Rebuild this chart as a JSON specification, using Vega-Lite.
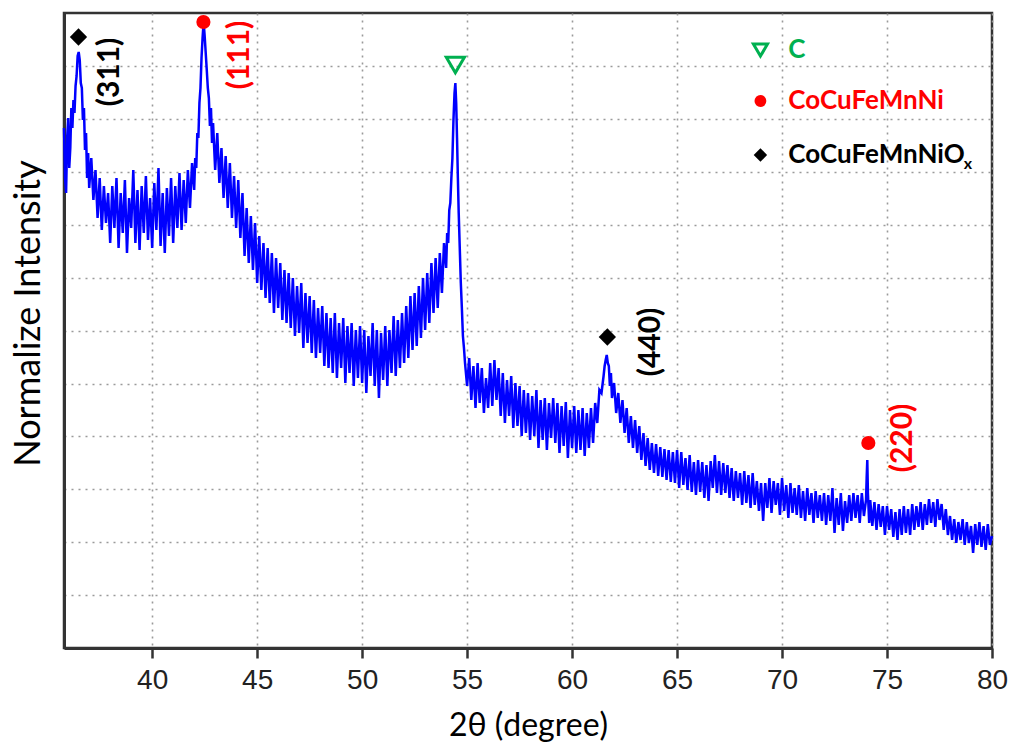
{
"$schema": "https://vega.github.io/schema/vega-lite/v6.json",
"width": 928, "height": 635,
"autosize": "none",
"padding": {"left": 64, "top": 13, "right": 19, "bottom": 96},
"background": "white",
"config": {"view": {"stroke": "#333", "strokeWidth": 2.5}},
"datasets": {
"xrd": [
{"t":35.8,"i":520},{"t":35.85,"i":470},{"t":35.9,"i":455},{"t":35.95,"i":510},{"t":36.0,"i":530},{"t":36.05,"i":480},{"t":36.1,"i":500},{"t":36.15,"i":540},{"t":36.2,"i":520},{"t":36.25,"i":548},{"t":36.3,"i":535},{"t":36.35,"i":562},{"t":36.4,"i":572},{"t":36.45,"i":592},{"t":36.5,"i":596},{"t":36.55,"i":588},{"t":36.6,"i":565},{"t":36.65,"i":560},{"t":36.7,"i":528},{"t":36.75,"i":540},{"t":36.8,"i":498},{"t":36.85,"i":515},{"t":36.9,"i":470},{"t":36.95,"i":495},
{"t":37.0,"i":460},{"t":37.1,"i":490},{"t":37.2,"i":448},{"t":37.3,"i":478},{"t":37.4,"i":430},{"t":37.5,"i":470},{"t":37.6,"i":418},{"t":37.7,"i":462},{"t":37.8,"i":425},{"t":37.9,"i":455},
{"t":38.0,"i":405},{"t":38.1,"i":462},{"t":38.2,"i":420},{"t":38.3,"i":470},{"t":38.4,"i":400},{"t":38.5,"i":455},{"t":38.6,"i":415},{"t":38.7,"i":468},{"t":38.8,"i":395},{"t":38.9,"i":450},
{"t":39.0,"i":420},{"t":39.1,"i":478},{"t":39.2,"i":405},{"t":39.3,"i":458},{"t":39.4,"i":398},{"t":39.5,"i":462},{"t":39.6,"i":415},{"t":39.7,"i":472},{"t":39.8,"i":408},{"t":39.9,"i":450},
{"t":40.0,"i":400},{"t":40.1,"i":465},{"t":40.2,"i":418},{"t":40.3,"i":480},{"t":40.4,"i":402},{"t":40.5,"i":455},{"t":40.6,"i":395},{"t":40.7,"i":460},{"t":40.8,"i":412},{"t":40.9,"i":470},
{"t":41.0,"i":405},{"t":41.1,"i":462},{"t":41.2,"i":420},{"t":41.3,"i":475},{"t":41.4,"i":418},{"t":41.5,"i":468},{"t":41.6,"i":425},{"t":41.7,"i":478},{"t":41.8,"i":440},{"t":41.9,"i":485},
{"t":42.0,"i":458},{"t":42.05,"i":490},{"t":42.1,"i":480},{"t":42.15,"i":515},{"t":42.2,"i":510},{"t":42.25,"i":545},{"t":42.3,"i":560},{"t":42.35,"i":590},{"t":42.4,"i":610},{"t":42.45,"i":626},{"t":42.5,"i":612},{"t":42.55,"i":595},{"t":42.6,"i":578},{"t":42.65,"i":560},{"t":42.7,"i":550},{"t":42.75,"i":522},{"t":42.8,"i":540},{"t":42.85,"i":505},{"t":42.9,"i":525},
{"t":43.0,"i":478},{"t":43.1,"i":515},{"t":43.2,"i":465},{"t":43.3,"i":500},{"t":43.4,"i":450},{"t":43.5,"i":492},{"t":43.6,"i":440},{"t":43.7,"i":485},{"t":43.8,"i":430},{"t":43.9,"i":472},
{"t":44.0,"i":420},{"t":44.1,"i":468},{"t":44.2,"i":410},{"t":44.3,"i":455},{"t":44.4,"i":392},{"t":44.5,"i":440},{"t":44.6,"i":385},{"t":44.7,"i":432},{"t":44.8,"i":378},{"t":44.9,"i":425},
{"t":45.0,"i":365},{"t":45.1,"i":412},{"t":45.2,"i":358},{"t":45.3,"i":405},{"t":45.4,"i":350},{"t":45.5,"i":400},{"t":45.6,"i":345},{"t":45.7,"i":395},{"t":45.8,"i":335},{"t":45.9,"i":390},
{"t":46.0,"i":340},{"t":46.1,"i":385},{"t":46.2,"i":328},{"t":46.3,"i":378},{"t":46.4,"i":325},{"t":46.5,"i":375},{"t":46.6,"i":320},{"t":46.7,"i":370},{"t":46.8,"i":312},{"t":46.9,"i":362},
{"t":47.0,"i":315},{"t":47.1,"i":365},{"t":47.2,"i":300},{"t":47.3,"i":355},{"t":47.4,"i":305},{"t":47.5,"i":352},{"t":47.6,"i":295},{"t":47.7,"i":348},{"t":47.8,"i":290},{"t":47.9,"i":340},
{"t":48.0,"i":295},{"t":48.1,"i":342},{"t":48.2,"i":282},{"t":48.3,"i":335},{"t":48.4,"i":280},{"t":48.5,"i":330},{"t":48.6,"i":275},{"t":48.7,"i":335},{"t":48.8,"i":270},{"t":48.9,"i":325},
{"t":49.0,"i":280},{"t":49.1,"i":330},{"t":49.2,"i":265},{"t":49.3,"i":322},{"t":49.4,"i":275},{"t":49.5,"i":325},{"t":49.6,"i":262},{"t":49.7,"i":318},{"t":49.8,"i":270},{"t":49.9,"i":322},
{"t":50.0,"i":265},{"t":50.1,"i":318},{"t":50.2,"i":255},{"t":50.3,"i":312},{"t":50.4,"i":272},{"t":50.5,"i":325},{"t":50.6,"i":262},{"t":50.7,"i":318},{"t":50.8,"i":250},{"t":50.9,"i":315},
{"t":51.0,"i":268},{"t":51.1,"i":322},{"t":51.2,"i":262},{"t":51.3,"i":318},{"t":51.4,"i":275},{"t":51.5,"i":332},{"t":51.6,"i":272},{"t":51.7,"i":328},{"t":51.8,"i":280},{"t":51.9,"i":335},
{"t":52.0,"i":285},{"t":52.1,"i":342},{"t":52.2,"i":290},{"t":52.3,"i":352},{"t":52.4,"i":298},{"t":52.5,"i":355},{"t":52.6,"i":302},{"t":52.7,"i":362},{"t":52.8,"i":310},{"t":52.9,"i":370},
{"t":53.0,"i":318},{"t":53.1,"i":375},{"t":53.2,"i":325},{"t":53.3,"i":385},{"t":53.4,"i":335},{"t":53.5,"i":390},{"t":53.6,"i":340},{"t":53.7,"i":395},{"t":53.8,"i":355},{"t":53.9,"i":405},
{"t":54.0,"i":380},{"t":54.05,"i":415},{"t":54.1,"i":405},{"t":54.15,"i":438},{"t":54.2,"i":445},{"t":54.25,"i":470},{"t":54.3,"i":490},{"t":54.35,"i":528},{"t":54.4,"i":555},{"t":54.44,"i":565},{"t":54.48,"i":545},{"t":54.52,"i":510},{"t":54.56,"i":470},{"t":54.6,"i":435},{"t":54.65,"i":400},{"t":54.7,"i":365},{"t":54.75,"i":340},{"t":54.8,"i":312},{"t":54.85,"i":300},{"t":54.9,"i":285},
{"t":55.0,"i":262},{"t":55.1,"i":290},{"t":55.2,"i":248},{"t":55.3,"i":282},{"t":55.4,"i":240},{"t":55.5,"i":285},{"t":55.6,"i":245},{"t":55.7,"i":280},{"t":55.8,"i":235},{"t":55.9,"i":270},
{"t":56.0,"i":240},{"t":56.1,"i":285},{"t":56.2,"i":242},{"t":56.3,"i":288},{"t":56.4,"i":248},{"t":56.5,"i":280},{"t":56.6,"i":232},{"t":56.7,"i":275},{"t":56.8,"i":225},{"t":56.9,"i":268},
{"t":57.0,"i":232},{"t":57.1,"i":272},{"t":57.2,"i":220},{"t":57.3,"i":265},{"t":57.4,"i":222},{"t":57.5,"i":262},{"t":57.6,"i":212},{"t":57.7,"i":258},{"t":57.8,"i":215},{"t":57.9,"i":255},
{"t":58.0,"i":208},{"t":58.1,"i":252},{"t":58.2,"i":212},{"t":58.3,"i":258},{"t":58.4,"i":200},{"t":58.5,"i":248},{"t":58.6,"i":208},{"t":58.7,"i":250},{"t":58.8,"i":198},{"t":58.9,"i":245},
{"t":59.0,"i":210},{"t":59.1,"i":250},{"t":59.2,"i":205},{"t":59.3,"i":245},{"t":59.4,"i":195},{"t":59.5,"i":242},{"t":59.6,"i":202},{"t":59.7,"i":246},{"t":59.8,"i":190},{"t":59.9,"i":238},
{"t":60.0,"i":200},{"t":60.1,"i":242},{"t":60.2,"i":195},{"t":60.3,"i":238},{"t":60.4,"i":198},{"t":60.5,"i":240},{"t":60.6,"i":192},{"t":60.7,"i":235},{"t":60.8,"i":200},{"t":60.9,"i":240},
{"t":61.0,"i":205},{"t":61.1,"i":245},{"t":61.2,"i":225},{"t":61.3,"i":258},{"t":61.4,"i":255},{"t":61.5,"i":272},{"t":61.55,"i":282},{"t":61.6,"i":288},{"t":61.65,"i":293},{"t":61.7,"i":285},{"t":61.75,"i":282},{"t":61.8,"i":262},{"t":61.85,"i":275},{"t":61.9,"i":250},
{"t":62.0,"i":265},{"t":62.1,"i":235},{"t":62.2,"i":255},{"t":62.3,"i":225},{"t":62.4,"i":248},{"t":62.5,"i":215},{"t":62.6,"i":240},{"t":62.7,"i":205},{"t":62.8,"i":232},{"t":62.9,"i":200},
{"t":63.0,"i":228},{"t":63.1,"i":195},{"t":63.2,"i":222},{"t":63.3,"i":188},{"t":63.4,"i":215},{"t":63.5,"i":182},{"t":63.6,"i":210},{"t":63.7,"i":178},{"t":63.8,"i":205},{"t":63.9,"i":175},
{"t":64.0,"i":204},{"t":64.1,"i":172},{"t":64.2,"i":201},{"t":64.3,"i":171},{"t":64.4,"i":199},{"t":64.5,"i":168},{"t":64.6,"i":198},{"t":64.7,"i":166},{"t":64.8,"i":196},{"t":64.9,"i":165},
{"t":65.0,"i":198},{"t":65.1,"i":160},{"t":65.2,"i":196},{"t":65.3,"i":163},{"t":65.4,"i":190},{"t":65.5,"i":158},{"t":65.6,"i":193},{"t":65.7,"i":156},{"t":65.8,"i":186},{"t":65.9,"i":153},
{"t":66.0,"i":188},{"t":66.1,"i":156},{"t":66.2,"i":186},{"t":66.3,"i":150},{"t":66.4,"i":183},{"t":66.5,"i":147},{"t":66.6,"i":187},{"t":66.7,"i":160},{"t":66.8,"i":193},{"t":66.9,"i":155},
{"t":67.0,"i":187},{"t":67.1,"i":153},{"t":67.2,"i":185},{"t":67.3,"i":155},{"t":67.4,"i":183},{"t":67.5,"i":150},{"t":67.6,"i":180},{"t":67.7,"i":147},{"t":67.8,"i":177},{"t":67.9,"i":150},
{"t":68.0,"i":175},{"t":68.1,"i":143},{"t":68.2,"i":177},{"t":68.3,"i":145},{"t":68.4,"i":173},{"t":68.5,"i":140},{"t":68.6,"i":175},{"t":68.7,"i":143},{"t":68.8,"i":167},{"t":68.9,"i":137},
{"t":69.0,"i":165},{"t":69.1,"i":127},{"t":69.2,"i":165},{"t":69.3,"i":140},{"t":69.4,"i":170},{"t":69.5,"i":135},{"t":69.6,"i":167},{"t":69.7,"i":143},{"t":69.8,"i":165},{"t":69.9,"i":133},
{"t":70.0,"i":170},{"t":70.1,"i":137},{"t":70.2,"i":163},{"t":70.3,"i":130},{"t":70.4,"i":165},{"t":70.5,"i":135},{"t":70.6,"i":160},{"t":70.7,"i":133},{"t":70.8,"i":163},{"t":70.9,"i":130},
{"t":71.0,"i":157},{"t":71.1,"i":127},{"t":71.2,"i":160},{"t":71.3,"i":133},{"t":71.4,"i":155},{"t":71.5,"i":125},{"t":71.6,"i":157},{"t":71.7,"i":130},{"t":71.8,"i":153},{"t":71.9,"i":127},
{"t":72.0,"i":155},{"t":72.1,"i":123},{"t":72.2,"i":153},{"t":72.3,"i":127},{"t":72.4,"i":160},{"t":72.5,"i":115},{"t":72.6,"i":150},{"t":72.7,"i":123},{"t":72.8,"i":155},{"t":72.9,"i":117},
{"t":73.0,"i":147},{"t":73.1,"i":125},{"t":73.2,"i":153},{"t":73.3,"i":127},{"t":73.4,"i":155},{"t":73.5,"i":130},{"t":73.6,"i":153},{"t":73.7,"i":125},{"t":73.8,"i":155},{"t":73.9,"i":132},
{"t":74.0,"i":148},{"t":74.03,"i":170},{"t":74.06,"i":188},{"t":74.09,"i":155},{"t":74.15,"i":125},{"t":74.2,"i":148},{"t":74.3,"i":122},{"t":74.4,"i":146},{"t":74.5,"i":118},{"t":74.6,"i":144},{"t":74.7,"i":121},{"t":74.8,"i":142},{"t":74.9,"i":113},
{"t":75.0,"i":142},{"t":75.1,"i":118},{"t":75.2,"i":139},{"t":75.3,"i":111},{"t":75.4,"i":136},{"t":75.5,"i":108},{"t":75.6,"i":139},{"t":75.7,"i":113},{"t":75.8,"i":142},{"t":75.9,"i":115},
{"t":76.0,"i":139},{"t":76.1,"i":113},{"t":76.2,"i":144},{"t":76.3,"i":118},{"t":76.4,"i":142},{"t":76.5,"i":121},{"t":76.6,"i":146},{"t":76.7,"i":118},{"t":76.8,"i":144},{"t":76.9,"i":123},
{"t":77.0,"i":149},{"t":77.1,"i":125},{"t":77.2,"i":146},{"t":77.3,"i":121},{"t":77.4,"i":149},{"t":77.5,"i":128},{"t":77.6,"i":144},{"t":77.7,"i":118},{"t":77.8,"i":139},{"t":77.9,"i":113},
{"t":78.0,"i":132},{"t":78.1,"i":108},{"t":78.2,"i":129},{"t":78.3,"i":105},{"t":78.4,"i":126},{"t":78.5,"i":108},{"t":78.6,"i":129},{"t":78.7,"i":103},{"t":78.8,"i":126},{"t":78.9,"i":105},
{"t":79.0,"i":122},{"t":79.1,"i":95},{"t":79.2,"i":124},{"t":79.3,"i":103},{"t":79.4,"i":126},{"t":79.5,"i":101},{"t":79.6,"i":122},{"t":79.7,"i":98},{"t":79.8,"i":124},{"t":79.9,"i":103},{"t":80.0,"i":112}
],
"markers": [
{"t":36.49,"i":611,"phase":"CoCuFeMnNiOx","kind":"peak"},
{"t":42.44,"i":626,"phase":"CoCuFeMnNi","kind":"peak"},
{"t":54.44,"i":583,"phase":"C","kind":"peak"},
{"t":61.68,"i":311,"phase":"CoCuFeMnNiOx","kind":"peak"},
{"t":74.11,"i":205,"phase":"CoCuFeMnNi","kind":"peak"},
{"t":68.97,"i":598,"phase":"C","kind":"legend"},
{"t":68.97,"i":547,"phase":"CoCuFeMnNi","kind":"legend"},
{"t":68.97,"i":493,"phase":"CoCuFeMnNiOx","kind":"legend"}
],
"hkl": [
{"t":37.97,"i":576,"label":"(311)","phase":"CoCuFeMnNiOx"},
{"t":44.16,"i":593,"label":"(111)","phase":"CoCuFeMnNi"},
{"t":63.78,"i":306,"label":"(440)","phase":"CoCuFeMnNiOx"},
{"t":75.77,"i":210,"label":"(220)","phase":"CoCuFeMnNi"}
],
"legendText": [
{"t":70.3,"i":598,"label":"C","phase":"C"},
{"t":70.3,"i":547,"label":"CoCuFeMnNi","phase":"CoCuFeMnNi"},
{"t":70.3,"i":493,"label":"CoCuFeMnNiO","phase":"CoCuFeMnNiOx"}
],
"subText": [
{"t":78.66,"i":484,"label":"x","phase":"CoCuFeMnNiOx"}
]
},
"encoding": {
"x": {"field": "t", "type": "quantitative", "scale": {"domain": [35.8, 80], "nice": false, "zero": false},
  "axis": {"values": [40,45,50,55,60,65,70,75,80], "title": "2θ (degree)", "grid": true, "gridDash": [2,5], "gridColor": "#9a9a9a", "gridWidth": 1.6,
   "tickSize": 10, "tickWidth": 2.5, "tickColor": "#333", "domainColor": "#333", "domainWidth": 3,
   "labelFont": "Liberation Sans", "labelFontSize": 28, "labelColor": "#222", "labelPadding": 8, "labelFlush": false,
   "titleFont": "Lato", "titleFontSize": 32, "titleFontWeight": "normal", "titleColor": "#000", "titleBaseline": "top", "titleY": 62}},
"y": {"field": "i", "type": "quantitative", "scale": {"domain": [0, 635], "nice": false, "zero": true},
  "axis": {"values": [52.9,105.8,158.7,211.6,264.5,317.4,370.3,423.2,476.1,529,581.9], "labels": false, "ticks": false, "grid": true, "gridDash": [2,5], "gridColor": "#9a9a9a", "gridWidth": 1.6,
   "domainColor": "#333", "domainWidth": 3, "title": "Normalize Intensity", "titleFont": "Lato", "titleFontSize": 36, "titleFontWeight": "normal", "titleColor": "#000",
   "titleAngle": 270, "titleBaseline": "middle", "titleX": -36, "titleY": 300}}
},
"layer": [
{"data": {"name": "xrd"}, "mark": {"type": "line", "color": "#0000ff", "strokeWidth": 2.5}},
{"data": {"name": "markers"}, "transform": [{"filter": "datum.phase === 'C'"}],
 "mark": {"type": "point", "shape": "triangle-down", "filled": false, "strokeWidth": 3, "opacity": 1},
 "encoding": {"color": {"field": "phase", "type": "nominal", "scale": {"domain": ["C","CoCuFeMnNi","CoCuFeMnNiOx"], "range": ["#00b050","#ff0000","#000000"]}, "legend": null},
  "size": {"field": "kind", "type": "nominal", "scale": {"domain": ["peak","legend"], "range": [330, 200]}, "legend": null}}},
{"data": {"name": "markers"}, "transform": [{"filter": "datum.phase === 'CoCuFeMnNi'"}],
 "mark": {"type": "point", "shape": "circle", "filled": true, "opacity": 1},
 "encoding": {"color": {"field": "phase", "type": "nominal", "scale": {"domain": ["C","CoCuFeMnNi","CoCuFeMnNiOx"], "range": ["#00b050","#ff0000","#000000"]}, "legend": null},
  "size": {"field": "kind", "type": "nominal", "scale": {"domain": ["peak","legend"], "range": [200, 140]}, "legend": null}}},
{"data": {"name": "markers"}, "transform": [{"filter": "datum.phase === 'CoCuFeMnNiOx'"}],
 "mark": {"type": "point", "shape": "diamond", "filled": true, "opacity": 1},
 "encoding": {"color": {"field": "phase", "type": "nominal", "scale": {"domain": ["C","CoCuFeMnNi","CoCuFeMnNiOx"], "range": ["#00b050","#ff0000","#000000"]}, "legend": null},
  "size": {"field": "kind", "type": "nominal", "scale": {"domain": ["peak","legend"], "range": [300, 180]}, "legend": null}}},
{"data": {"name": "hkl"}, "mark": {"type": "text", "angle": 270, "align": "center", "baseline": "middle", "font": "Lato", "fontSize": 30, "fontWeight": "bold"},
 "encoding": {"text": {"field": "label"}, "color": {"field": "phase", "type": "nominal", "scale": {"domain": ["C","CoCuFeMnNi","CoCuFeMnNiOx"], "range": ["#00b050","#ff0000","#000000"]}, "legend": null}}},
{"data": {"name": "legendText"}, "mark": {"type": "text", "align": "left", "baseline": "middle", "font": "Lato", "fontSize": 26, "fontWeight": "bold"},
 "encoding": {"text": {"field": "label"}, "color": {"field": "phase", "type": "nominal", "scale": {"domain": ["C","CoCuFeMnNi","CoCuFeMnNiOx"], "range": ["#00b050","#ff0000","#000000"]}, "legend": null}}},
{"data": {"name": "subText"}, "mark": {"type": "text", "align": "left", "baseline": "middle", "font": "Lato", "fontSize": 16, "fontWeight": "bold"},
 "encoding": {"text": {"field": "label"}, "color": {"field": "phase", "type": "nominal", "scale": {"domain": ["C","CoCuFeMnNi","CoCuFeMnNiOx"], "range": ["#00b050","#ff0000","#000000"]}, "legend": null}}}
],
"resolve": {"scale": {"size": "independent"}}
}
